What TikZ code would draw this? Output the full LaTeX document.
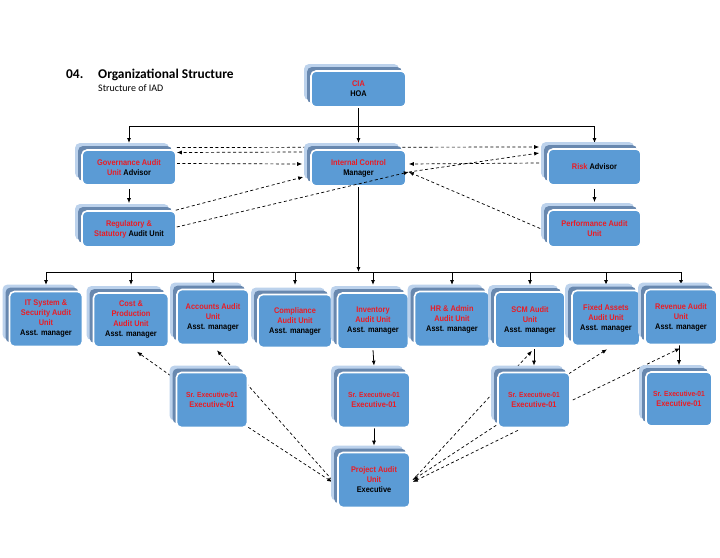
\documentclass[tikz,border=0pt]{standalone}
\usepackage{fontspec}
\setmainfont{Liberation Sans}
\newfontfamily\boxfont{Liberation Sans}[FakeStretch=0.9]
\newfontfamily\titlefont{Carlito}
\usetikzlibrary{arrows.meta,shadows}
\definecolor{boxblue}{RGB}{91,155,213}
\definecolor{boxmid}{RGB}{104,136,175}
\definecolor{boxlight}{RGB}{188,210,236}
\definecolor{unitred}{RGB}{235,28,36}
\newcommand{\rd}[1]{\textcolor{unitred}{#1}}
\newcommand{\srexec}{\rd{\fontsize{7.4}{10}\selectfont Sr. Executive-01}\\\rd{Executive-01}}
\pgfdeclarelayer{back}
\pgfsetlayers{back,main}
\tikzset{
  unit/.style={draw=white, line width=1.6pt, fill=boxblue, rounded corners=5pt,
    align=center, inner sep=1pt, text=black,
    font=\boxfont\bfseries\fontsize{8.2}{10}\selectfont,
    general shadow={fill=boxlight, shadow xshift=-7pt, shadow yshift=7pt},
    general shadow={fill=boxmid, shadow xshift=-4pt, shadow yshift=4pt}},
  boxsize/.style 2 args={minimum width=#1pt, minimum height=#2pt},
  arr/.style={line width=.8pt, -{Latex[length=5pt,width=4pt]}},
  dashline/.style={line width=.7pt, dash pattern=on 3pt off 2.5pt, -{Latex[length=5pt,width=4pt]}}
}
\begin{document}
\begin{tikzpicture}[x=1pt, y=-1pt]
  \useasboundingbox (0,0) rectangle (720,557);
  % title
  \node[anchor=base west, inner sep=0, font=\titlefont\bfseries\fontsize{13.4}{15}\selectfont] (num) at (66,78.5) {04.};
  \node[anchor=base west, inner sep=0, font=\titlefont\bfseries\fontsize{13.4}{15}\selectfont] (title) at (98,78.5) {Organizational Structure};
  \node[anchor=base west, inner sep=0, font=\titlefont\fontsize{10}{12}\selectfont] (subtitle) at (98,91) {Structure of IAD};
  % head and advisors
  \node[unit, boxsize={95}{36}] (cia) at (358.5,89) {\rd{CIA}\\HOA};
  \node[unit, boxsize={94}{35}] (gov) at (129,167.5) {\rd{Governance Audit}\\\rd{Unit} Advisor};
  \node[unit, boxsize={95}{36}] (ic) at (358.5,168) {\rd{Internal Control}\\Manager};
  \node[unit, boxsize={93}{36}] (risk) at (594.5,167) {\rd{Risk} Advisor};
  \node[unit, boxsize={94}{36}] (reg) at (129,229) {\rd{Regulatory \&}\\\rd{Statutory} Audit Unit};
  \node[unit, boxsize={93}{37}] (perf) at (594.5,228.5) {\rd{Performance Audit}\\\rd{Unit}};
  % audit units
  \node[unit, boxsize={73}{55}] (itsec) at (46,319) {\rd{IT System \&}\\\rd{Security Audit}\\\rd{Unit}\\Asst. manager};
  \node[unit, boxsize={75}{54}] (cost) at (131,320) {\rd{Cost \&}\\\rd{Production}\\\rd{Audit Unit}\\Asst. manager};
  \node[unit, boxsize={72}{55}] (acc) at (213,317) {\rd{Accounts Audit}\\\rd{Unit}\\Asst. manager};
  \node[unit, boxsize={74}{53}] (comp) at (295,321) {\rd{Compliance}\\\rd{Audit Unit}\\Asst. manager};
  \node[unit, boxsize={71}{56}] (inv) at (373,321) {\rd{Inventory}\\\rd{Audit Unit}\\Asst. manager};
  \node[unit, boxsize={75}{55}] (hr) at (452,319) {\rd{HR \& Admin}\\\rd{Audit Unit}\\Asst. manager};
  \node[unit, boxsize={70}{56}] (scm) at (530,320) {\rd{SCM Audit}\\\rd{Unit}\\Asst. manager};
  \node[unit, boxsize={68}{55}] (fixed) at (606,318) {\rd{Fixed Assets}\\\rd{Audit Unit}\\Asst. manager};
  \node[unit, boxsize={72}{55}] (rev) at (681,317) {\rd{Revenue Audit}\\\rd{Unit}\\Asst. manager};
  % executives
  \node[unit, boxsize={71}{55}] (exL) at (212,400) {\srexec};
  \node[unit, boxsize={72}{55}] (exM) at (374,400) {\srexec};
  \node[unit, boxsize={72}{55}] (exS) at (534,400) {\srexec};
  \node[unit, boxsize={66}{54}] (exR) at (679,399) {\srexec};
  \node[unit, boxsize={72}{55}] (proj) at (374,480) {\rd{Project Audit}\\\rd{Unit}\\Executive};
  \coordinate (topbus) at (358.5,126);
  \coordinate (toprow) at (0,143);
  \coordinate (midbus) at (358.5,272);
  \coordinate (arrowrow) at (0,285);
  \begin{pgfonlayer}{back}
    % reporting lines
    \draw[line width=.8pt] (cia.south) -- (topbus);
    \foreach \u in {gov,ic,risk}
      \draw[arr] (topbus) -| (\u.north |- toprow);
    \draw[arr] ([yshift=-3pt]gov.south) -- ([yshift=7pt]reg.north);
    \draw[arr] ([yshift=-3pt]risk.south) -- ([yshift=7pt]perf.north);
    \draw[arr] (ic.south) -- (midbus);
    \foreach \u in {itsec,cost,acc,comp,inv,hr,scm,fixed,rev}
      \draw[arr] (midbus) -| (\u.north |- arrowrow);
    \draw[arr] (inv.south) -- ([yshift=6pt]exM.north);
    \draw[arr] (exM.south) -- ([yshift=6pt]proj.north);
    \draw[arr] (exS.north |- scm.south) -- ([yshift=6pt]exS.north);
    \draw[arr] (exR.north |- rev.south) -- ([yshift=6pt]exR.north);
    % coordination lines
    \draw[dashline] ([xshift=-8pt,yshift=16pt]ic.west) -- ([yshift=15pt]gov.east);
    \draw[dashline] ([yshift=4pt]gov.east) -- ([xshift=-8pt,yshift=4pt]ic.west);
    \draw[dashline] ([yshift=20pt]gov.east) -- ([xshift=-8pt,yshift=20pt]risk.west);
    \draw[dashline] ([xshift=-8pt,yshift=4pt]risk.west) -- ([xshift=2pt,yshift=4pt]ic.east);
    \draw[dashline] ([xshift=-1pt]reg.north east) -- ([xshift=-7pt,yshift=-9pt]ic.west);
    \draw[dashline] ([xshift=2pt,yshift=-4pt]ic.east) -- ([xshift=-8pt,yshift=14pt]risk.west);
    \draw[dashline] ([xshift=-7pt]perf.west) -- ([xshift=2pt,yshift=-4pt]ic.east);
    \draw[dashline] ([xshift=-5pt,yshift=-4pt]exL.north west) -- ([xshift=6pt,yshift=-4pt]cost.south);
    \draw[dashline] ([xshift=-5pt]proj.west) -- ([xshift=4pt,yshift=-5pt]acc.south);
    \draw[dashline] ([yshift=1pt]exL.south east) -- ([xshift=-5pt,yshift=-2pt]proj.west);
    \draw[dashline] ([xshift=2pt]proj.east) -- ([xshift=2pt,yshift=-2pt]scm.south);
    \draw[dashline] ([xshift=-2pt,yshift=-2pt]exS.north east) -- ([xshift=1pt,yshift=-3pt]fixed.south);
    \draw[dashline] ([xshift=2pt]exS.east) -- ([xshift=-1pt,yshift=-3pt]rev.south);
    \draw[dashline] ([xshift=-1pt,yshift=3pt]exS.south west) -- ([xshift=2pt]proj.east);
    \draw[dashline] ([xshift=-16pt,yshift=-2pt]exS.south) -- ([xshift=2pt,yshift=-2pt]proj.east);
  \end{pgfonlayer}
  \draw[dashline] ([yshift=2pt]reg.east) -- ([xshift=2pt,yshift=-4pt]ic.east);
\end{tikzpicture}
\end{document}
